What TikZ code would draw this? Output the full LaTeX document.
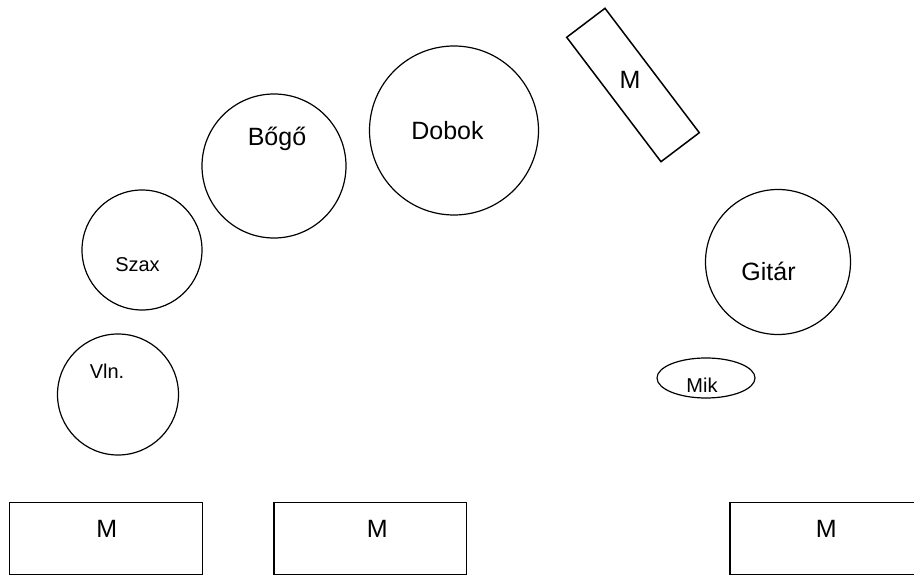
\documentclass[tikz,border=0pt]{standalone}
\usepackage{fontspec}
\setmainfont{Liberation Sans}

\begin{document}
\begin{tikzpicture}[x=1pt, y=-1pt, line width=1.2pt,
  bigtxt/.style={font=\fontsize{25}{30}\selectfont, anchor=base, inner sep=0pt},
  smalltxt/.style={font=\fontsize{20}{24}\selectfont, anchor=base, inner sep=0pt},
  monitor/.style={line width=1.5pt}]

\clip (0,0) rectangle (914,577);

% Players
\draw (454,130.5) circle [radius=84.5];
\node [bigtxt] (dobok) at (447.5,140) {Dobok};

\draw (274,166) circle [radius=72];
\node [bigtxt] (bogo) at (277,146) {Bőgő};

\draw (142,250) circle [radius=60];
\node [smalltxt] (szax) at (137.5,272) {Szax};

\draw (118,394.5) circle [radius=60.5];
\node [smalltxt] (vln) at (107,379) {Vln.};

\draw (778,262) circle [radius=72.5];
\node [bigtxt] (gitar) at (768.5,280.7) {Gitár};

\draw (706,378) ellipse [x radius=49, y radius=20];
\node [smalltxt] (mik) at (702,392.7) {Mik};

% Monitors
\draw [monitor] (605,8.3) -- (699.3,132.7) -- (661,161.7) -- (566.7,37.3) -- cycle;
\node [bigtxt] (mon1) at (630,88.3) {M};

\draw [monitor] (9.7,502.7) rectangle (202.3,574.3);
\node [bigtxt] (mon2) at (106.7,537.7) {M};

\draw [monitor] (274,502.7) rectangle (466.7,574.3);
\node [bigtxt] (mon3) at (377.3,537.7) {M};

\draw [monitor] (730,502.7) rectangle (923,574.3);
\node [bigtxt] (mon4) at (826.3,537.7) {M};

\end{tikzpicture}
\end{document}
